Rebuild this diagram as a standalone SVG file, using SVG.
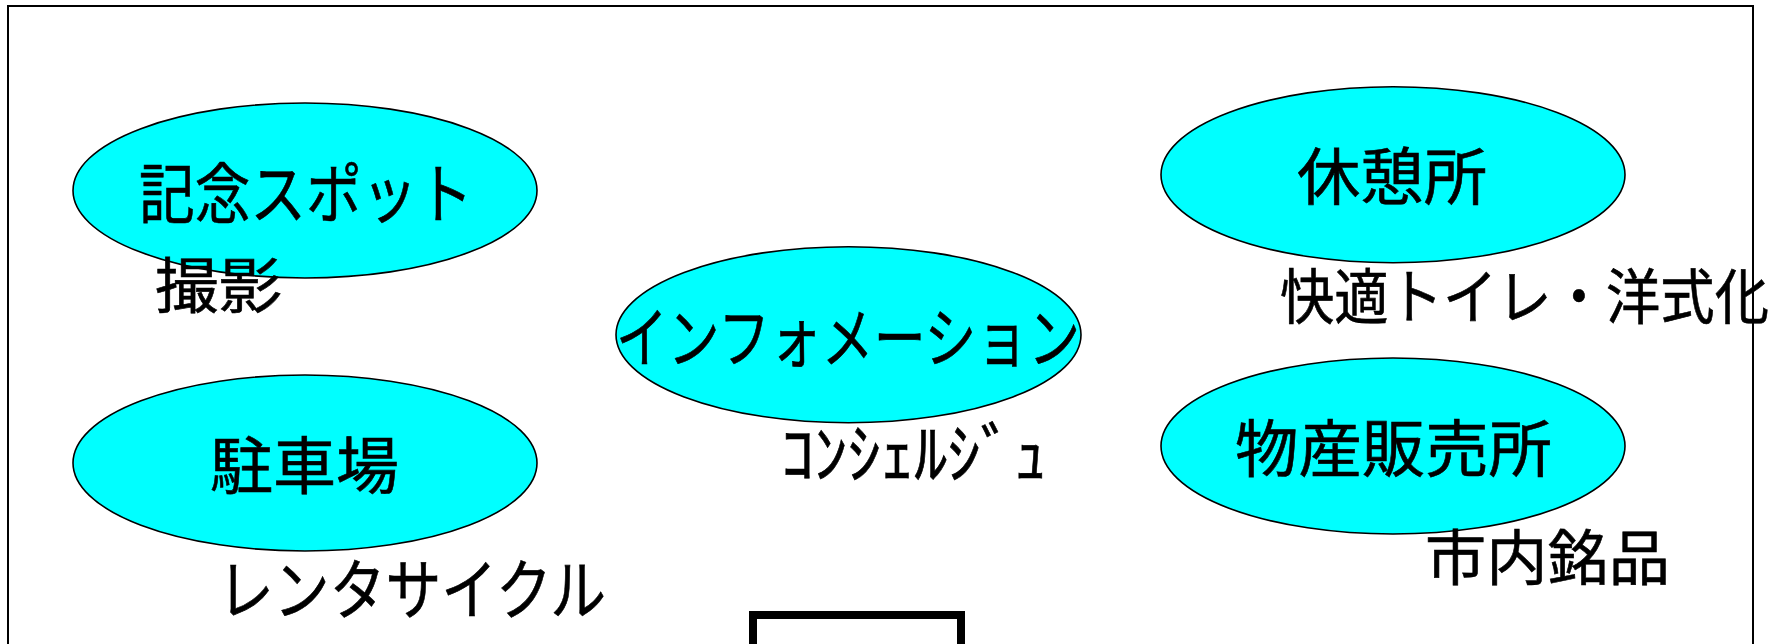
<svg xmlns="http://www.w3.org/2000/svg" width="1779" height="644" viewBox="0 0 1779 644">
<style>
.bg{fill:#ffffff}
.frame{fill:none;stroke:#000;stroke-width:2}
.node{fill:#00FFFF;stroke:#000;stroke-width:1.6}
.t{font-family:"Noto Sans CJK JP","Noto Sans CJK SC",sans-serif;fill:#000;stroke:#000;stroke-width:0.6}
.m{font-size:62px}
.s{font-size:60px}
.k{font-size:66px}
.box{fill:none;stroke:#000;stroke-width:8}
</style>
<rect class="bg" x="0" y="0" width="1779" height="644"/>
<rect class="frame" x="8" y="6" width="1745" height="720"/>
<g id="connectors"></g>
<g id="node-kinen">
<ellipse class="node" cx="305" cy="190.5" rx="232" ry="87.5"/>
<text class="t k" x="139" y="218" textLength="334" lengthAdjust="spacingAndGlyphs">記念スポット</text>
<text class="t s" x="155" y="308" textLength="127" lengthAdjust="spacingAndGlyphs">撮影</text>
</g>
<g id="node-info">
<ellipse class="node" cx="848.5" cy="334.7" rx="232.5" ry="88"/>
<text class="t k" x="616" y="362" textLength="464" lengthAdjust="spacingAndGlyphs">インフォメーション</text>
<text class="t k" x="781" y="478" textLength="266" lengthAdjust="spacingAndGlyphs">ｺﾝｼｪﾙｼﾞｭ</text>
</g>
<g id="node-kyukei">
<ellipse class="node" cx="1393" cy="174.7" rx="232" ry="88"/>
<text class="t m" x="1297" y="200" textLength="190" lengthAdjust="spacingAndGlyphs">休憩所</text>
<text class="t s" x="1280" y="319" textLength="489" lengthAdjust="spacingAndGlyphs">快適トイレ・洋式化</text>
</g>
<g id="node-chusha">
<ellipse class="node" cx="305" cy="463" rx="232" ry="88"/>
<text class="t m" x="210" y="489" textLength="189" lengthAdjust="spacingAndGlyphs">駐車場</text>
<text class="t k" x="218" y="614" textLength="388" lengthAdjust="spacingAndGlyphs">レンタサイクル</text>
</g>
<g id="node-bussan">
<ellipse class="node" cx="1393" cy="446" rx="232" ry="88"/>
<text class="t m" x="1235" y="472" textLength="317" lengthAdjust="spacingAndGlyphs">物産販売所</text>
<text class="t s" x="1425" y="580" textLength="245" lengthAdjust="spacingAndGlyphs">市内銘品</text>
</g>
<g id="node-box">
<rect class="box" x="753" y="615" width="208" height="120"/>
</g>
</svg>
